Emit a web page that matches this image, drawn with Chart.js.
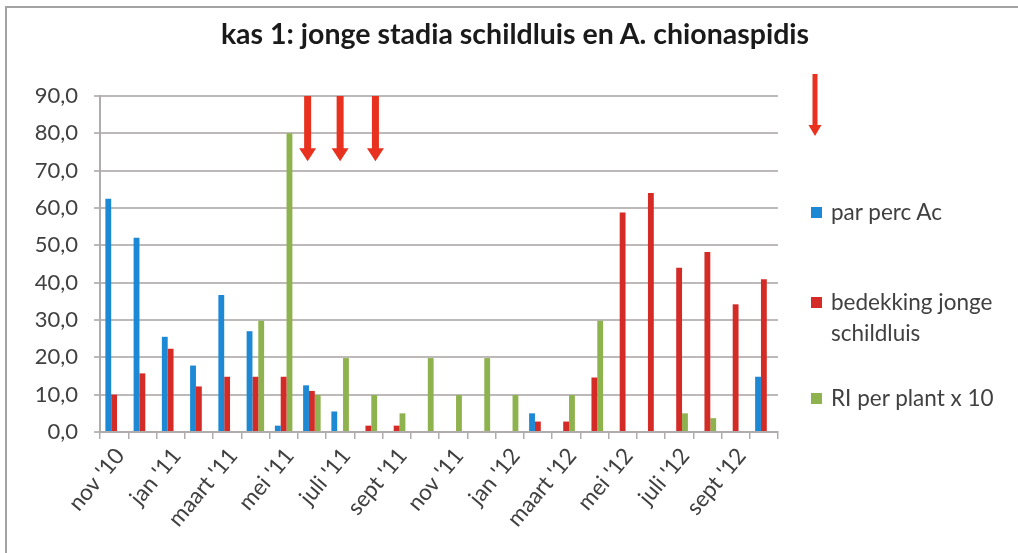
<!DOCTYPE html>
<html>
<head>
<meta charset="utf-8">
<title>kas 1: jonge stadia schildluis en A. chionaspidis</title>
<script src="https://cdn.jsdelivr.net/npm/chart.js@4"></script>
<style>
  html, body { margin: 0; padding: 0; background: #fff; }
  #wrap { position: relative; width: 1018px; height: 553px; overflow: hidden; }
  #frame { position: absolute; left: 5px; top: 6px; right: -10px; bottom: -10px;
           border-top: 2px solid #a3a3a3; border-left: 2px solid #a3a3a3; pointer-events: none; }
  #title { position: absolute; left: 0; width: 1030px; top: 16px; text-align: center;
           font-family: Lato, "Open Sans", sans-serif; font-weight: bold; font-size: 28.5px;
           color: #1a1a1a; white-space: nowrap; }
  #legend { position: absolute; left: 811px; top: 0; font-family: Lato, "Open Sans", sans-serif;
            font-size: 22.5px; color: #404040; line-height: 31px; }
  .item { position: absolute; left: 0; white-space: nowrap; padding-left: 20px; }
  .box { position: absolute; left: 0; top: 11px; width: 11px; height: 11px; }
</style>
</head>
<body>
<div id="wrap">
  <canvas id="chart" width="1018" height="553"></canvas>
  <div id="frame"></div>
  <div id="title">kas 1: jonge stadia schildluis en A. chionaspidis</div>
  <div id="legend"></div>
</div>
<script>
// months, nov '10 .. okt '12 (only every other one gets a label)
const months = ["nov '10", "dec '10", "jan '11", "feb '11", "maart '11", "apr '11",
  "mei '11", "juni '11", "juli '11", "aug '11", "sept '11", "okt '11",
  "nov '11", "dec '11", "jan '12", "feb '12", "maart '12", "apr '12",
  "mei '12", "juni '12", "juli '12", "aug '12", "sept '12", "okt '12"];

const parPercAc = [62.5, 52, 25.5, 17.8, 36.7, 27, 1.7, 12.5, 5.5, null, null, null,
  null, null, null, 5, null, null, null, null, null, null, null, 14.8];
const bedekking = [10, 15.7, 22.3, 12.2, 14.8, 14.8, 14.8, 11, null, 1.7, 1.7, null,
  null, null, null, 2.8, 2.8, 14.6, 58.8, 64, 44, 48.2, 34.2, 40.9];
const riPerPlant = [null, null, null, null, null, 29.8, 80, 9.9, 19.8, 9.9, 5, 19.8,
  9.9, 19.8, 9.9, null, 9.9, 29.8, null, null, 5, 3.7, null, null];

const yTicks = [0, 10, 20, 30, 40, 50, 60, 70, 80, 90];

// treatment arrows, in category units along the x axis
const arrowAt = [6.85, 8.0, 9.25];
const arrowTip = 72.5;

const COLORS = { blue: "#1d88d4", red: "#d42b27", green: "#8eb24d" };

const series = [
  { label: "par perc Ac", data: parPercAc, color: COLORS.blue },
  { label: ["bedekking jonge", "schildluis"], data: bedekking, color: COLORS.red },
  { label: "RI per plant x 10", data: riPerPlant, color: COLORS.green },
];

function drawArrow(ctx, x, yTop, yTip, shaft, head, headH) {
  ctx.beginPath();
  ctx.moveTo(x - shaft / 2, yTop);
  ctx.lineTo(x + shaft / 2, yTop);
  ctx.lineTo(x + shaft / 2, yTip - headH);
  ctx.lineTo(x + head / 2, yTip - headH);
  ctx.lineTo(x, yTip);
  ctx.lineTo(x - head / 2, yTip - headH);
  ctx.lineTo(x - shaft / 2, yTip - headH);
  ctx.closePath();
  ctx.fill();
}

const arrowPlugin = {
  id: "arrows",
  afterDatasetsDraw(chart) {
    const { ctx, scales: { x, y }, chartArea } = chart;
    const catW = x.getPixelForValue(1) - x.getPixelForValue(0);
    const x0 = x.getPixelForValue(0);
    ctx.save();
    ctx.fillStyle = "#e8321f";
    arrowAt.forEach((pos) => {
      drawArrow(ctx, x0 + pos * catW, y.getPixelForValue(90), y.getPixelForValue(arrowTip), 7, 17, 13);
    });
    // lone arrow above the legend
    drawArrow(ctx, chartArea.right + 37, 74, 136, 5, 13, 11);
    ctx.restore();
  },
};

function buildLegend() {
  const el = document.getElementById("legend");
  const tops = [196, 286, 382];
  series.forEach((s, i) => {
    const item = document.createElement("div");
    item.className = "item";
    item.style.top = tops[i] + "px";
    const box = document.createElement("span");
    box.className = "box";
    box.style.background = s.color;
    item.appendChild(box);
    const txt = [].concat(s.label);
    item.insertAdjacentHTML("beforeend", txt.join("<br>"));
    el.appendChild(item);
  });
}

function buildChart() {
  Chart.defaults.font.family = "Lato, 'Open Sans', sans-serif";
  Chart.defaults.color = "#404040";

  new Chart(document.getElementById("chart"), {
    type: "bar",
    data: {
      labels: months,
      datasets: series.map((s) => ({
        label: [].concat(s.label).join(" "),
        data: s.data,
        backgroundColor: s.color,
        categoryPercentage: 0.62,
        barPercentage: 1,
      })),
    },
    options: {
      responsive: false,
      animation: false,
      layout: { padding: { left: 5, right: 240, top: 96, bottom: 0 } },
      plugins: {
        legend: { display: false },
        tooltip: { enabled: false },
      },
      scales: {
        x: {
          offset: true,
          grid: { offset: true, drawOnChartArea: false, color: "#b0acac", lineWidth: 1.5, tickLength: 7 },
          border: { color: "#b0acac", width: 2 },
          ticks: {
            autoSkip: false,
            maxRotation: 50,
            minRotation: 50,
            font: { size: 22.5 },
            padding: 4,
            labelOffset: 6,
            callback: (v, i) => (i % 2 === 0 ? months[i] : ""),
          },
          afterFit: (scale) => { scale.height = 121; },
        },
        y: {
          min: 0,
          max: 90,
          afterBuildTicks: (scale) => { scale.ticks = yTicks.map((v) => ({ value: v })); },
          grid: { color: "#bdb9b9", lineWidth: 2, tickLength: 6 },
          border: { color: "#b0acac", width: 2 },
          ticks: {
            font: { size: 22 },
            padding: 16,
            callback: (v) => v.toFixed(1).replace(".", ","),
          },
          afterFit: (scale) => { scale.width = 95; },
        },
      },
    },
    plugins: [arrowPlugin],
  });
}

document.addEventListener("DOMContentLoaded", () => {
  buildLegend();
  buildChart();
});
</script>
</body>
</html>
